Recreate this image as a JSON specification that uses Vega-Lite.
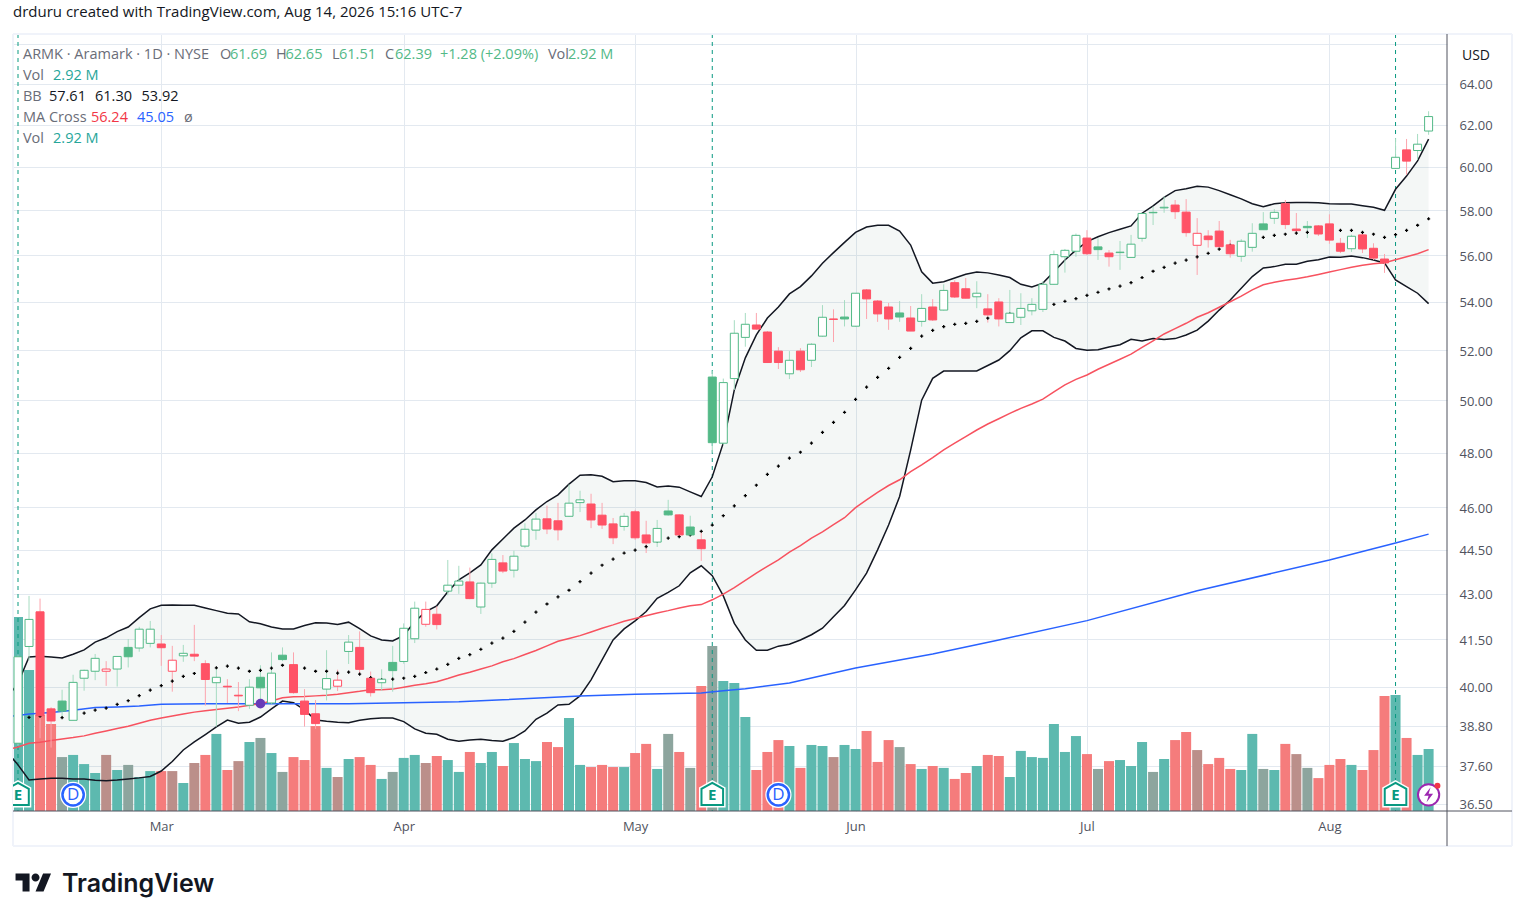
{
"$schema":"https://vega.github.io/schema/vega-lite/v6.json",
"description":"ARMK daily candles with Bollinger bands, moving averages and volume",
"autosize":{"type":"none"},
"padding":{"left":13,"top":34,"right":78,"bottom":110},
"width":1434,
"height":777,
"background":"#ffffff",
"title":{"text":"drduru created with TradingView.com, Aug 14, 2026 15:16 UTC-7","anchor":"start","frame":"group","offset":13,"font":"Open Sans","fontSize":15,"fontWeight":"normal","color":"#131722"},
"config":{"view":{"stroke":null},"text":{"font":"Open Sans"}},
"datasets":{
"candles":[
{"k":0,"o":38.27,"h":40.98,"l":38.2,"c":40.94,"d":"u","v":9.14,"t":"g"},
{"k":1,"o":41.27,"h":42.93,"l":40.83,"c":42.15,"d":"u","v":6.64,"t":"g"},
{"k":2,"o":42.4,"h":42.84,"l":38.42,"c":39.1,"d":"d","v":4.52,"t":"r"},
{"k":3,"o":39.31,"h":39.36,"l":38.14,"c":38.94,"d":"d","v":4.1,"t":"r"},
{"k":4,"o":39.55,"h":39.9,"l":39.02,"c":39.24,"d":"u","v":2.54,"t":"gg"},
{"k":5,"o":38.96,"h":40.37,"l":38.96,"c":40.13,"d":"u","v":2.64,"t":"g"},
{"k":6,"o":40.26,"h":40.53,"l":39.87,"c":40.51,"d":"u","v":2.21,"t":"g"},
{"k":7,"o":40.48,"h":41.03,"l":40.2,"c":40.89,"d":"u","v":1.79,"t":"g"},
{"k":8,"o":40.48,"h":40.8,"l":40.02,"c":40.55,"d":"d","v":2.64,"t":"gr"},
{"k":9,"o":40.55,"h":40.95,"l":40.0,"c":40.95,"d":"u","v":1.93,"t":"g"},
{"k":10,"o":41.24,"h":41.51,"l":40.6,"c":40.94,"d":"u","v":2.17,"t":"gg"},
{"k":11,"o":41.22,"h":41.91,"l":41.1,"c":41.83,"d":"u","v":1.6,"t":"g"},
{"k":12,"o":41.37,"h":42.1,"l":41.24,"c":41.83,"d":"u","v":1.88,"t":"g"},
{"k":13,"o":41.35,"h":41.64,"l":40.65,"c":41.23,"d":"d","v":1.88,"t":"r"},
{"k":14,"o":40.48,"h":41.29,"l":39.84,"c":40.83,"d":"d","v":1.88,"t":"gr"},
{"k":15,"o":40.97,"h":41.32,"l":40.78,"c":41.05,"d":"u","v":1.32,"t":"g"},
{"k":16,"o":41.02,"h":41.97,"l":40.8,"c":40.96,"d":"d","v":2.26,"t":"gr"},
{"k":17,"o":40.72,"h":40.83,"l":39.41,"c":40.22,"d":"d","v":2.64,"t":"r"},
{"k":18,"o":40.12,"h":40.57,"l":38.77,"c":40.29,"d":"u","v":3.63,"t":"g"},
{"k":19,"o":40.01,"h":40.23,"l":39.49,"c":39.99,"d":"d","v":1.93,"t":"r"},
{"k":20,"o":39.73,"h":40.14,"l":39.24,"c":39.71,"d":"d","v":2.35,"t":"gr"},
{"k":21,"o":39.42,"h":40.23,"l":39.31,"c":39.98,"d":"u","v":3.25,"t":"g"},
{"k":22,"o":40.29,"h":40.67,"l":39.55,"c":39.96,"d":"u","v":3.44,"t":"gg"},
{"k":23,"o":39.49,"h":41.08,"l":39.45,"c":40.42,"d":"u","v":2.73,"t":"g"},
{"k":24,"o":40.99,"h":41.24,"l":40.8,"c":40.85,"d":"u","v":1.84,"t":"gg"},
{"k":25,"o":40.69,"h":41.08,"l":39.78,"c":39.81,"d":"d","v":2.54,"t":"r"},
{"k":26,"o":39.55,"h":39.92,"l":38.77,"c":39.14,"d":"d","v":2.4,"t":"r"},
{"k":27,"o":39.16,"h":39.58,"l":38.7,"c":38.86,"d":"d","v":4.0,"t":"r"},
{"k":28,"o":39.92,"h":41.15,"l":39.57,"c":40.25,"d":"u","v":2.03,"t":"g"},
{"k":29,"o":40.01,"h":40.53,"l":39.86,"c":40.2,"d":"d","v":1.6,"t":"gr"},
{"k":30,"o":41.11,"h":41.64,"l":40.71,"c":41.41,"d":"u","v":2.45,"t":"g"},
{"k":31,"o":41.24,"h":41.76,"l":40.42,"c":40.54,"d":"d","v":2.54,"t":"r"},
{"k":32,"o":40.26,"h":40.47,"l":39.69,"c":39.81,"d":"d","v":2.17,"t":"r"},
{"k":33,"o":40.12,"h":40.54,"l":39.87,"c":40.23,"d":"u","v":1.51,"t":"g"},
{"k":34,"o":40.76,"h":41.29,"l":39.84,"c":40.5,"d":"u","v":1.84,"t":"gg"},
{"k":35,"o":40.79,"h":42.02,"l":40.72,"c":41.86,"d":"u","v":2.5,"t":"g"},
{"k":36,"o":41.52,"h":42.74,"l":41.38,"c":42.52,"d":"u","v":2.64,"t":"g"},
{"k":37,"o":41.99,"h":42.74,"l":41.91,"c":42.48,"d":"d","v":2.26,"t":"gr"},
{"k":38,"o":42.32,"h":42.58,"l":41.82,"c":41.98,"d":"d","v":2.59,"t":"r"},
{"k":39,"o":43.09,"h":44.15,"l":42.95,"c":43.29,"d":"u","v":2.4,"t":"g"},
{"k":40,"o":43.29,"h":43.95,"l":43.0,"c":43.43,"d":"u","v":1.84,"t":"g"},
{"k":41,"o":43.4,"h":43.89,"l":42.82,"c":42.84,"d":"d","v":2.78,"t":"r"},
{"k":42,"o":42.56,"h":43.38,"l":42.33,"c":43.36,"d":"u","v":2.26,"t":"g"},
{"k":43,"o":43.36,"h":44.38,"l":43.2,"c":44.17,"d":"u","v":2.78,"t":"g"},
{"k":44,"o":44.05,"h":44.32,"l":43.7,"c":43.77,"d":"d","v":2.12,"t":"r"},
{"k":45,"o":43.8,"h":44.47,"l":43.55,"c":44.28,"d":"u","v":3.2,"t":"g"},
{"k":46,"o":44.63,"h":45.43,"l":44.56,"c":45.22,"d":"u","v":2.45,"t":"g"},
{"k":47,"o":45.19,"h":45.8,"l":44.85,"c":45.58,"d":"u","v":2.35,"t":"g"},
{"k":48,"o":45.59,"h":46.06,"l":45.05,"c":45.23,"d":"d","v":3.25,"t":"r"},
{"k":49,"o":45.52,"h":46.16,"l":44.83,"c":45.2,"d":"d","v":3.01,"t":"r"},
{"k":50,"o":45.68,"h":46.83,"l":45.66,"c":46.15,"d":"u","v":4.38,"t":"g"},
{"k":51,"o":46.17,"h":46.6,"l":45.83,"c":46.27,"d":"u","v":2.17,"t":"g"},
{"k":52,"o":46.12,"h":46.49,"l":45.26,"c":45.55,"d":"d","v":2.07,"t":"r"},
{"k":53,"o":45.72,"h":46.16,"l":45.23,"c":45.37,"d":"d","v":2.17,"t":"r"},
{"k":54,"o":45.41,"h":45.62,"l":44.7,"c":44.92,"d":"d","v":2.07,"t":"r"},
{"k":55,"o":45.32,"h":45.8,"l":45.17,"c":45.68,"d":"u","v":2.07,"t":"g"},
{"k":56,"o":45.84,"h":45.91,"l":44.85,"c":44.92,"d":"d","v":2.73,"t":"r"},
{"k":57,"o":45.02,"h":45.52,"l":44.39,"c":44.74,"d":"d","v":3.16,"t":"r"},
{"k":58,"o":44.77,"h":45.55,"l":44.6,"c":45.25,"d":"u","v":1.98,"t":"g"},
{"k":59,"o":45.87,"h":46.27,"l":45.7,"c":45.73,"d":"u","v":3.63,"t":"gg"},
{"k":60,"o":45.73,"h":45.75,"l":45.0,"c":45.02,"d":"d","v":2.78,"t":"r"},
{"k":61,"o":45.3,"h":45.7,"l":45.0,"c":45.02,"d":"u","v":2.03,"t":"gg"},
{"k":62,"o":44.85,"h":45.16,"l":44.12,"c":44.54,"d":"d","v":5.89,"t":"r"},
{"k":63,"o":50.92,"h":51.17,"l":48.0,"c":48.38,"d":"u","v":7.77,"t":"gg"},
{"k":64,"o":48.36,"h":50.86,"l":48.3,"c":50.7,"d":"u","v":6.12,"t":"g"},
{"k":65,"o":50.86,"h":53.23,"l":50.41,"c":52.69,"d":"u","v":6.03,"t":"g"},
{"k":66,"o":52.52,"h":53.53,"l":52.14,"c":53.06,"d":"u","v":4.43,"t":"g"},
{"k":67,"o":53.03,"h":53.53,"l":52.84,"c":52.86,"d":"d","v":1.93,"t":"r"},
{"k":68,"o":52.74,"h":52.78,"l":51.48,"c":51.5,"d":"d","v":2.78,"t":"r"},
{"k":69,"o":51.96,"h":52.12,"l":51.24,"c":51.5,"d":"d","v":3.34,"t":"r"},
{"k":70,"o":51.05,"h":51.96,"l":50.84,"c":51.59,"d":"u","v":3.06,"t":"g"},
{"k":71,"o":51.96,"h":52.08,"l":51.12,"c":51.21,"d":"d","v":2.03,"t":"r"},
{"k":72,"o":51.59,"h":52.28,"l":51.32,"c":52.24,"d":"u","v":3.11,"t":"g"},
{"k":73,"o":52.57,"h":53.86,"l":52.55,"c":53.35,"d":"u","v":3.06,"t":"g"},
{"k":74,"o":53.28,"h":53.68,"l":52.33,"c":53.26,"d":"d","v":2.54,"t":"gr"},
{"k":75,"o":53.36,"h":54.07,"l":52.97,"c":53.28,"d":"u","v":3.11,"t":"g"},
{"k":76,"o":52.98,"h":54.37,"l":52.96,"c":54.36,"d":"u","v":2.92,"t":"g"},
{"k":77,"o":54.5,"h":54.54,"l":53.28,"c":54.12,"d":"d","v":3.77,"t":"r"},
{"k":78,"o":54.03,"h":54.07,"l":53.16,"c":53.49,"d":"d","v":2.31,"t":"r"},
{"k":79,"o":53.78,"h":53.95,"l":52.83,"c":53.28,"d":"d","v":3.34,"t":"r"},
{"k":80,"o":53.53,"h":54.03,"l":53.16,"c":53.36,"d":"u","v":3.01,"t":"gg"},
{"k":81,"o":53.32,"h":53.82,"l":52.78,"c":52.78,"d":"d","v":2.21,"t":"r"},
{"k":82,"o":53.18,"h":54.32,"l":52.96,"c":53.72,"d":"u","v":1.98,"t":"g"},
{"k":83,"o":53.78,"h":54.11,"l":53.2,"c":53.24,"d":"d","v":2.12,"t":"r"},
{"k":84,"o":53.65,"h":54.74,"l":53.63,"c":54.48,"d":"u","v":2.03,"t":"g"},
{"k":85,"o":54.81,"h":54.91,"l":54.16,"c":54.2,"d":"d","v":1.51,"t":"r"},
{"k":86,"o":54.55,"h":55.01,"l":54.14,"c":54.15,"d":"d","v":1.79,"t":"r"},
{"k":87,"o":54.21,"h":54.87,"l":53.73,"c":54.36,"d":"u","v":2.12,"t":"g"},
{"k":88,"o":53.7,"h":54.32,"l":53.13,"c":53.45,"d":"d","v":2.64,"t":"r"},
{"k":89,"o":53.99,"h":54.15,"l":52.97,"c":53.28,"d":"d","v":2.59,"t":"r"},
{"k":90,"o":53.13,"h":54.5,"l":53.13,"c":53.52,"d":"u","v":1.6,"t":"g"},
{"k":91,"o":53.35,"h":54.36,"l":53.03,"c":53.72,"d":"u","v":2.83,"t":"g"},
{"k":92,"o":53.62,"h":54.15,"l":53.43,"c":53.89,"d":"u","v":2.54,"t":"g"},
{"k":93,"o":53.68,"h":54.87,"l":53.57,"c":54.74,"d":"u","v":2.5,"t":"g"},
{"k":94,"o":54.74,"h":56.2,"l":54.72,"c":56.02,"d":"u","v":4.1,"t":"g"},
{"k":95,"o":55.93,"h":56.27,"l":55.24,"c":56.21,"d":"u","v":2.78,"t":"g"},
{"k":96,"o":56.17,"h":56.95,"l":55.93,"c":56.87,"d":"u","v":3.53,"t":"g"},
{"k":97,"o":56.75,"h":57.1,"l":56.0,"c":56.06,"d":"d","v":2.68,"t":"r"},
{"k":98,"o":56.36,"h":56.74,"l":55.79,"c":56.24,"d":"u","v":1.98,"t":"gg"},
{"k":99,"o":56.09,"h":56.22,"l":55.5,"c":55.93,"d":"d","v":2.35,"t":"r"},
{"k":100,"o":56.11,"h":56.62,"l":55.36,"c":56.13,"d":"u","v":2.4,"t":"g"},
{"k":101,"o":55.9,"h":56.89,"l":55.9,"c":56.48,"d":"u","v":2.12,"t":"g"},
{"k":102,"o":56.74,"h":57.87,"l":56.59,"c":57.85,"d":"u","v":3.25,"t":"g"},
{"k":103,"o":57.88,"h":58.16,"l":57.33,"c":57.9,"d":"u","v":1.84,"t":"gg"},
{"k":104,"o":58.1,"h":58.62,"l":57.88,"c":58.13,"d":"u","v":2.45,"t":"g"},
{"k":105,"o":58.23,"h":58.46,"l":57.6,"c":57.93,"d":"d","v":3.34,"t":"r"},
{"k":106,"o":57.91,"h":58.5,"l":56.81,"c":56.99,"d":"d","v":3.72,"t":"r"},
{"k":107,"o":56.43,"h":57.64,"l":55.14,"c":56.96,"d":"d","v":2.87,"t":"gr"},
{"k":108,"o":56.84,"h":57.1,"l":56.33,"c":56.68,"d":"d","v":2.21,"t":"r"},
{"k":109,"o":57.06,"h":57.51,"l":56.37,"c":56.37,"d":"d","v":2.5,"t":"r"},
{"k":110,"o":56.45,"h":56.67,"l":55.89,"c":56.06,"d":"d","v":1.98,"t":"r"},
{"k":111,"o":55.95,"h":56.7,"l":55.71,"c":56.61,"d":"u","v":1.93,"t":"g"},
{"k":112,"o":56.34,"h":57.41,"l":56.15,"c":56.96,"d":"u","v":3.63,"t":"g"},
{"k":113,"o":57.38,"h":57.91,"l":57.12,"c":57.12,"d":"u","v":1.98,"t":"gg"},
{"k":114,"o":57.63,"h":58.05,"l":57.38,"c":57.9,"d":"u","v":1.93,"t":"g"},
{"k":115,"o":58.29,"h":58.46,"l":57.15,"c":57.35,"d":"d","v":3.16,"t":"r"},
{"k":116,"o":57.15,"h":57.87,"l":56.92,"c":57.08,"d":"d","v":2.68,"t":"gr"},
{"k":117,"o":57.27,"h":57.51,"l":56.75,"c":57.21,"d":"u","v":2.03,"t":"gg"},
{"k":118,"o":57.29,"h":57.33,"l":56.84,"c":56.93,"d":"d","v":1.55,"t":"r"},
{"k":119,"o":57.38,"h":57.81,"l":56.5,"c":56.66,"d":"d","v":2.17,"t":"r"},
{"k":120,"o":56.52,"h":56.75,"l":56.09,"c":56.17,"d":"d","v":2.45,"t":"r"},
{"k":121,"o":56.28,"h":56.9,"l":56.14,"c":56.83,"d":"u","v":2.17,"t":"g"},
{"k":122,"o":56.89,"h":56.97,"l":56.09,"c":56.27,"d":"d","v":1.93,"t":"r"},
{"k":123,"o":56.3,"h":56.52,"l":55.79,"c":55.87,"d":"d","v":2.87,"t":"r"},
{"k":124,"o":55.83,"h":56.05,"l":55.23,"c":55.66,"d":"d","v":5.42,"t":"r"},
{"k":125,"o":59.92,"h":61.35,"l":59.9,"c":60.44,"d":"u","v":5.46,"t":"g"},
{"k":126,"o":60.79,"h":61.31,"l":59.62,"c":60.26,"d":"d","v":3.44,"t":"r"},
{"k":127,"o":60.76,"h":61.55,"l":60.32,"c":61.06,"d":"u","v":2.64,"t":"g"},
{"k":128,"o":61.69,"h":62.65,"l":61.51,"c":62.39,"d":"u","v":2.92,"t":"g"}
],
"bands":[
{"k":-1,"u":39.63,"m":38.7,"b":38.01,"s":38.07},
{"k":0,"u":40.11,"m":38.84,"b":37.63,"s":38.16},
{"k":1,"u":40.93,"m":39.05,"b":37.19,"s":38.27},
{"k":2,"u":40.96,"m":39.09,"b":37.22,"s":38.3},
{"k":3,"u":40.93,"m":39.08,"b":37.24,"s":38.35},
{"k":4,"u":40.9,"m":39.04,"b":37.24,"s":38.4},
{"k":5,"u":41.02,"m":39.13,"b":37.22,"s":38.44},
{"k":6,"u":41.16,"m":39.18,"b":37.22,"s":38.49},
{"k":7,"u":41.41,"m":39.27,"b":37.18,"s":38.57},
{"k":8,"u":41.55,"m":39.33,"b":37.17,"s":38.64},
{"k":9,"u":41.75,"m":39.45,"b":37.19,"s":38.71},
{"k":10,"u":41.9,"m":39.56,"b":37.22,"s":38.78},
{"k":11,"u":42.21,"m":39.72,"b":37.25,"s":38.87},
{"k":12,"u":42.5,"m":39.89,"b":37.29,"s":38.96},
{"k":13,"u":42.62,"m":40.03,"b":37.45,"s":39.03},
{"k":14,"u":42.63,"m":40.17,"b":37.73,"s":39.09},
{"k":15,"u":42.62,"m":40.32,"b":38.07,"s":39.15},
{"k":16,"u":42.62,"m":40.41,"b":38.31,"s":39.21},
{"k":17,"u":42.53,"m":40.55,"b":38.53,"s":39.25},
{"k":18,"u":42.44,"m":40.59,"b":38.76,"s":39.29},
{"k":19,"u":42.35,"m":40.64,"b":38.97,"s":39.33},
{"k":20,"u":42.33,"m":40.58,"b":38.87,"s":39.37},
{"k":21,"u":42.07,"m":40.48,"b":38.9,"s":39.42},
{"k":22,"u":42.01,"m":40.51,"b":39.06,"s":39.47},
{"k":23,"u":41.9,"m":40.58,"b":39.31,"s":39.55},
{"k":24,"u":41.84,"m":40.67,"b":39.55,"s":39.65},
{"k":25,"u":41.84,"m":40.63,"b":39.5,"s":39.68},
{"k":26,"u":41.95,"m":40.58,"b":39.28,"s":39.69},
{"k":27,"u":42.04,"m":40.48,"b":38.97,"s":39.71},
{"k":28,"u":42.03,"m":40.48,"b":38.93,"s":39.73},
{"k":29,"u":41.98,"m":40.42,"b":38.9,"s":39.76},
{"k":30,"u":42.06,"m":40.45,"b":38.89,"s":39.81},
{"k":31,"u":41.85,"m":40.39,"b":38.96,"s":39.85},
{"k":32,"u":41.61,"m":40.28,"b":39.01,"s":39.9},
{"k":33,"u":41.48,"m":40.21,"b":39.03,"s":39.9},
{"k":34,"u":41.45,"m":40.23,"b":39.03,"s":39.92},
{"k":35,"u":41.63,"m":40.26,"b":38.92,"s":39.98},
{"k":36,"u":42.07,"m":40.32,"b":38.7,"s":40.04},
{"k":37,"u":42.41,"m":40.44,"b":38.57,"s":40.09},
{"k":38,"u":42.6,"m":40.55,"b":38.54,"s":40.15},
{"k":39,"u":43.07,"m":40.7,"b":38.39,"s":40.25},
{"k":40,"u":43.47,"m":40.89,"b":38.33,"s":40.36},
{"k":41,"u":43.71,"m":41.01,"b":38.37,"s":40.45},
{"k":42,"u":43.98,"m":41.18,"b":38.39,"s":40.55},
{"k":43,"u":44.5,"m":41.38,"b":38.35,"s":40.65},
{"k":44,"u":44.88,"m":41.54,"b":38.33,"s":40.78},
{"k":45,"u":45.26,"m":41.76,"b":38.44,"s":40.88},
{"k":46,"u":45.55,"m":42.06,"b":38.64,"s":41.01},
{"k":47,"u":45.91,"m":42.39,"b":38.99,"s":41.14},
{"k":48,"u":46.21,"m":42.66,"b":39.18,"s":41.29},
{"k":49,"u":46.45,"m":42.9,"b":39.43,"s":41.44},
{"k":50,"u":46.84,"m":43.12,"b":39.45,"s":41.53},
{"k":51,"u":47.17,"m":43.41,"b":39.71,"s":41.62},
{"k":52,"u":47.18,"m":43.7,"b":40.21,"s":41.74},
{"k":53,"u":47.13,"m":43.97,"b":40.84,"s":41.86},
{"k":54,"u":46.93,"m":44.18,"b":41.48,"s":41.97},
{"k":55,"u":46.96,"m":44.39,"b":41.84,"s":42.09},
{"k":56,"u":46.96,"m":44.49,"b":42.1,"s":42.18},
{"k":57,"u":46.9,"m":44.61,"b":42.41,"s":42.27},
{"k":58,"u":46.74,"m":44.81,"b":42.85,"s":42.36},
{"k":59,"u":46.77,"m":44.91,"b":43.05,"s":42.44},
{"k":60,"u":46.73,"m":44.96,"b":43.27,"s":42.53},
{"k":61,"u":46.56,"m":45.02,"b":43.71,"s":42.6},
{"k":62,"u":46.39,"m":45.15,"b":43.95,"s":42.64},
{"k":63,"u":47.11,"m":45.37,"b":43.61,"s":42.8},
{"k":64,"u":48.37,"m":45.7,"b":42.93,"s":42.99},
{"k":65,"u":50.41,"m":46.05,"b":42.02,"s":43.21},
{"k":66,"u":51.69,"m":46.42,"b":41.48,"s":43.45},
{"k":67,"u":52.62,"m":46.8,"b":41.15,"s":43.7},
{"k":68,"u":53.32,"m":47.2,"b":41.15,"s":43.93},
{"k":69,"u":53.78,"m":47.5,"b":41.28,"s":44.15},
{"k":70,"u":54.33,"m":47.8,"b":41.34,"s":44.42},
{"k":71,"u":54.64,"m":48.02,"b":41.48,"s":44.65},
{"k":72,"u":55.1,"m":48.36,"b":41.65,"s":44.91},
{"k":73,"u":55.65,"m":48.77,"b":41.86,"s":45.13},
{"k":74,"u":56.11,"m":49.15,"b":42.24,"s":45.38},
{"k":75,"u":56.56,"m":49.54,"b":42.61,"s":45.63},
{"k":76,"u":57.0,"m":50.04,"b":43.13,"s":45.99},
{"k":77,"u":57.24,"m":50.52,"b":43.7,"s":46.27},
{"k":78,"u":57.32,"m":50.91,"b":44.5,"s":46.54},
{"k":79,"u":57.32,"m":51.27,"b":45.37,"s":46.79},
{"k":80,"u":57.06,"m":51.71,"b":46.39,"s":47.0},
{"k":81,"u":56.44,"m":52.07,"b":48.1,"s":47.3},
{"k":82,"u":55.28,"m":52.57,"b":50.01,"s":47.55},
{"k":83,"u":54.79,"m":52.81,"b":50.87,"s":47.82},
{"k":84,"u":54.85,"m":52.96,"b":51.16,"s":48.11},
{"k":85,"u":55.01,"m":53.06,"b":51.16,"s":48.36},
{"k":86,"u":55.17,"m":53.1,"b":51.16,"s":48.61},
{"k":87,"u":55.27,"m":53.18,"b":51.16,"s":48.86},
{"k":88,"u":55.23,"m":53.31,"b":51.38,"s":49.09},
{"k":89,"u":55.14,"m":53.4,"b":51.6,"s":49.29},
{"k":90,"u":55.03,"m":53.48,"b":51.98,"s":49.5},
{"k":91,"u":54.74,"m":53.6,"b":52.5,"s":49.69},
{"k":92,"u":54.63,"m":53.7,"b":52.79,"s":49.86},
{"k":93,"u":54.79,"m":53.77,"b":52.79,"s":50.05},
{"k":94,"u":55.28,"m":53.89,"b":52.52,"s":50.33},
{"k":95,"u":55.79,"m":54.02,"b":52.37,"s":50.61},
{"k":96,"u":56.22,"m":54.13,"b":52.07,"s":50.83},
{"k":97,"u":56.59,"m":54.27,"b":52.0,"s":51.0},
{"k":98,"u":56.81,"m":54.4,"b":52.02,"s":51.23},
{"k":99,"u":56.99,"m":54.54,"b":52.13,"s":51.43},
{"k":100,"u":57.14,"m":54.66,"b":52.22,"s":51.63},
{"k":101,"u":57.29,"m":54.81,"b":52.44,"s":51.84},
{"k":102,"u":57.86,"m":55.03,"b":52.37,"s":52.11},
{"k":103,"u":58.19,"m":55.3,"b":52.47,"s":52.38},
{"k":104,"u":58.58,"m":55.47,"b":52.43,"s":52.66},
{"k":105,"u":58.89,"m":55.65,"b":52.47,"s":52.88},
{"k":106,"u":58.98,"m":55.78,"b":52.62,"s":53.1},
{"k":107,"u":59.09,"m":55.92,"b":52.82,"s":53.35},
{"k":108,"u":59.05,"m":56.08,"b":53.19,"s":53.54},
{"k":109,"u":58.89,"m":56.26,"b":53.65,"s":53.77},
{"k":110,"u":58.7,"m":56.43,"b":54.07,"s":54.0},
{"k":111,"u":58.51,"m":56.52,"b":54.57,"s":54.24},
{"k":112,"u":58.29,"m":56.65,"b":55.07,"s":54.5},
{"k":113,"u":58.15,"m":56.78,"b":55.44,"s":54.72},
{"k":114,"u":58.29,"m":56.87,"b":55.5,"s":54.83},
{"k":115,"u":58.34,"m":56.92,"b":55.6,"s":54.91},
{"k":116,"u":58.35,"m":56.97,"b":55.6,"s":54.98},
{"k":117,"u":58.35,"m":57.0,"b":55.73,"s":55.06},
{"k":118,"u":58.34,"m":57.03,"b":55.8,"s":55.16},
{"k":119,"u":58.29,"m":57.06,"b":55.92,"s":55.27},
{"k":120,"u":58.28,"m":57.09,"b":55.91,"s":55.37},
{"k":121,"u":58.28,"m":57.09,"b":55.96,"s":55.47},
{"k":122,"u":58.2,"m":57.0,"b":55.89,"s":55.56},
{"k":123,"u":58.13,"m":56.92,"b":55.79,"s":55.62},
{"k":124,"u":57.99,"m":56.78,"b":55.66,"s":55.67},
{"k":125,"u":58.95,"m":56.9,"b":54.93,"s":55.8},
{"k":126,"u":59.56,"m":57.09,"b":54.64,"s":55.93},
{"k":127,"u":60.27,"m":57.32,"b":54.36,"s":56.06},
{"k":128,"u":61.3,"m":57.61,"b":53.92,"s":56.24}
],
"ma200":[
{"k":-1,"p":39.07},{"k":0,"p":39.11},{"k":1,"p":39.15},{"k":3,"p":39.2},{"k":5,"p":39.27},{"k":7,"p":39.35},{"k":9,"p":39.37},{"k":11,"p":39.4},{"k":13,"p":39.45},{"k":17,"p":39.47},{"k":22,"p":39.47},{"k":30,"p":39.47},{"k":35,"p":39.5},{"k":40,"p":39.53},{"k":44,"p":39.59},{"k":51,"p":39.71},{"k":56,"p":39.76},{"k":62,"p":39.8},{"k":64,"p":39.87},{"k":66,"p":39.93},{"k":70,"p":40.11},{"k":76,"p":40.58},{"k":83,"p":41.03},{"k":89,"p":41.48},{"k":97,"p":42.11},{"k":107,"p":43.1},{"k":119,"p":44.15},{"k":125,"p":44.74},{"k":128,"p":45.05}
],
"earnings":[{"k":0,"p":36.76,"label":"E"},{"k":63,"p":36.76,"label":"E"},{"k":125,"p":36.76,"label":"E"}],
"dividends":[{"k":5,"p":36.76,"label":"D"},{"k":69,"p":36.76,"label":"D"}],
"legend":[
{"k":0.45,"p":65.51,"label":"ARMK · Aramark · 1D · NYSE","tone":"label"},
{"k":18.33,"p":65.51,"label":"O","tone":"label"},
{"k":19.24,"p":65.51,"label":"61.69","tone":"up"},
{"k":23.41,"p":65.51,"label":"H","tone":"label"},
{"k":24.27,"p":65.51,"label":"62.65","tone":"up"},
{"k":28.49,"p":65.51,"label":"L","tone":"label"},
{"k":29.13,"p":65.51,"label":"61.51","tone":"up"},
{"k":33.3,"p":65.51,"label":"C","tone":"label"},
{"k":34.21,"p":65.51,"label":"62.39","tone":"up"},
{"k":38.29,"p":65.51,"label":"+1.28 (+2.09%)","tone":"up"},
{"k":48.09,"p":65.51,"label":"Vol","tone":"label"},
{"k":49.9,"p":65.51,"label":"2.92 M","tone":"up"},
{"k":0.45,"p":64.44,"label":"Vol","tone":"label"},
{"k":3.18,"p":64.44,"label":"2.92 M","tone":"vol"},
{"k":0.45,"p":63.4,"label":"BB","tone":"label"},
{"k":2.81,"p":63.4,"label":"57.61","tone":"bb"},
{"k":6.99,"p":63.4,"label":"61.30","tone":"bb"},
{"k":11.21,"p":63.4,"label":"53.92","tone":"bb"},
{"k":0.45,"p":62.37,"label":"MA Cross","tone":"label"},
{"k":6.62,"p":62.37,"label":"56.24","tone":"ma50"},
{"k":10.8,"p":62.37,"label":"45.05","tone":"ma200"},
{"k":15.06,"p":62.37,"label":"ø","tone":"label"},
{"k":0.45,"p":61.36,"label":"Vol","tone":"label"},
{"k":3.18,"p":61.36,"label":"2.92 M","tone":"vol"}
],
"frame":[
{"k":-0.454,"k2":135.57,"p":66.54,"p2":66.54},
{"k":-0.454,"k2":135.57,"p":35.32,"p2":35.32},
{"k":-0.454,"k2":-0.454,"p":66.54,"p2":35.32},
{"k":135.57,"k2":135.57,"p":66.54,"p2":35.32}
],
"scales":[
{"k":-0.454,"k2":135.57,"p":36.3,"p2":36.3},
{"k":129.67,"k2":129.67,"p":66.54,"p2":35.32}
]
},
"encoding":{
"x":{"field":"k","type":"quantitative","title":null,
"scale":{"domain":[-0.454,129.67],"nice":false,"zero":false,"padding":0},
"axis":{"values":[13,35,56,76,97,119],"labelExpr":"{'13':'Mar','35':'Apr','56':'May','76':'Jun','97':'Jul','119':'Aug'}[datum.value]","grid":true,"gridColor":"#e3e9f0","gridWidth":1,"ticks":false,"domain":false,"labelFont":"Open Sans","labelFontSize":13,"labelColor":"#50535e","labelPadding":9,"labelFlush":false,"labelOverlap":false}}
},
"layer":[
{"data":{"name":"bands"},
"mark":{"type":"area","color":"#2a5a50","opacity":0.05,"clip":true},
"encoding":{
"y":{"field":"b","type":"quantitative","title":null,
"scale":{"type":"log","domain":[36.3,66.54],"nice":false,"zero":false},
"axis":{"orient":"right","values":[36.5,37.6,38.8,40,41.5,43,44.5,46,48,50,52,54,56,58,60,62,64,66],"labelExpr":"datum.value==66?'':format(datum.value,'.2f')","grid":true,"gridColor":"#e3e9f0","gridWidth":1,"ticks":false,"domain":false,"labelFont":"Open Sans","labelFontSize":13,"labelColor":"#50535e","labelPadding":12,"labelOffset":1,"labelFlush":false,"labelOverlap":false,"labelBound":false}},
"y2":{"field":"u"}
}},
{"data":{"name":"candles"},
"mark":{"type":"bar","orient":"vertical","width":10,"clip":true},
"encoding":{
"y":{"field":"v","type":"quantitative","title":null,"stack":null,"scale":{"domain":[0,36.59],"nice":false},"axis":null},
"color":{"condition":[{"test":"datum.t=='g'","value":"#5db9af"},{"test":"datum.t=='r'","value":"#f57c7c"},{"test":"datum.t=='gg'","value":"#8da59e"}],"value":"#bb8f8a"}
}},
{"layer":[
{"data":{"name":"earnings"},"mark":{"type":"rule","color":"#089981","strokeWidth":1,"strokeDash":[4,4]},"encoding":{}},
{"data":{"name":"frame"},"mark":{"type":"rule","color":"#f0f3fa","strokeWidth":2,"clip":false},"encoding":{"x2":{"field":"k2"},"y":{"field":"p","type":"quantitative"},"y2":{"field":"p2"}}},
{"data":{"name":"scales"},"mark":{"type":"rule","color":"#50535e","strokeWidth":1,"clip":false},"encoding":{"x2":{"field":"k2"},"y":{"field":"p","type":"quantitative"},"y2":{"field":"p2"}}},
{"data":{"values":[{"p":62.39}]},"mark":{"type":"rule","color":"#53b987","strokeWidth":1,"strokeDash":[1,3]},"encoding":{"x":{"datum":-0.454},"x2":{"datum":129.67},"y":{"field":"p","type":"quantitative"}}},
{"data":{"name":"bands"},"mark":{"type":"line","color":"#131722","strokeWidth":1.5,"clip":true},"encoding":{"y":{"field":"u","type":"quantitative"}}},
{"data":{"name":"bands"},"mark":{"type":"line","color":"#131722","strokeWidth":1.5,"clip":true},"encoding":{"y":{"field":"b","type":"quantitative"}}},
{"data":{"name":"ma200"},"mark":{"type":"line","color":"#2962ff","strokeWidth":1.5,"clip":true},"encoding":{"y":{"field":"p","type":"quantitative"}}},
{"data":{"name":"bands"},"mark":{"type":"line","color":"#f7525f","strokeWidth":1.5,"clip":true},"encoding":{"y":{"field":"s","type":"quantitative"}}},
{"data":{"name":"candles"},"mark":{"type":"rule","strokeWidth":1,"clip":true},"encoding":{
"y":{"field":"h","type":"quantitative"},"y2":{"field":"l"},
"color":{"condition":{"test":"datum.d=='u'","value":"#a6dcc2"},"value":"#fca5ae"}}},
{"data":{"name":"bands"},"mark":{"type":"point","shape":"cross","filled":true,"size":10,"color":"#000000","opacity":1,"clip":true},"encoding":{"y":{"field":"m","type":"quantitative"}}},
{"data":{"name":"candles"},"mark":{"type":"bar","orient":"vertical","width":8,"strokeWidth":1,"clip":true},"encoding":{
"y":{"field":"o","type":"quantitative","stack":null},"y2":{"field":"c"},
"fill":{"condition":[{"test":"datum.c>=datum.o","value":"#ffffff"},{"test":"datum.d=='u'","value":"#53b987"}],"value":"#ff5266"},
"stroke":{"condition":{"test":"datum.d=='u'","value":"#53b987"},"value":"#ff5266"}}},
{"data":{"values":[{"k":22,"p":39.47}]},"mark":{"type":"circle","size":95,"color":"#673ab7","opacity":1},"encoding":{"y":{"field":"p","type":"quantitative"}}},
{"data":{"name":"earnings"},"mark":{"type":"point","shape":"M0,-1L.9,-.5V.85H-.9V-.5Z","size":576,"filled":false,"stroke":"#ffffff","strokeWidth":5,"opacity":1,"clip":true},"encoding":{"y":{"field":"p","type":"quantitative"}}},
{"data":{"name":"earnings"},"mark":{"type":"point","shape":"M0,-1L.9,-.5V.85H-.9V-.5Z","size":576,"filled":true,"fill":"#ffffff","stroke":"#089981","strokeWidth":2,"opacity":1,"clip":true},"encoding":{"y":{"field":"p","type":"quantitative"}}},
{"data":{"name":"earnings"},"mark":{"type":"text","font":"Open Sans","fontSize":15,"fontWeight":"bold","color":"#089981","baseline":"middle","clip":true},"encoding":{"y":{"field":"p","type":"quantitative"},"text":{"field":"label"}}},
{"data":{"name":"dividends"},"mark":{"type":"circle","size":452,"fill":"#ffffff","stroke":"#ffffff","strokeWidth":5,"opacity":1},"encoding":{"y":{"field":"p","type":"quantitative"}}},
{"data":{"name":"dividends"},"mark":{"type":"circle","size":452,"fill":"#ffffff","stroke":"#2962ff","strokeWidth":2.5,"opacity":1},"encoding":{"y":{"field":"p","type":"quantitative"}}},
{"data":{"name":"dividends"},"mark":{"type":"text","font":"Open Sans","fontSize":17,"color":"#2962ff","baseline":"middle"},"encoding":{"y":{"field":"p","type":"quantitative"},"text":{"field":"label"}}},
{"data":{"values":[{"k":128,"p":36.76}]},"mark":{"type":"circle","size":452,"fill":"#ffffff","stroke":"#9c27b0","strokeWidth":2,"opacity":1},"encoding":{"y":{"field":"p","type":"quantitative"}}},
{"data":{"values":[{"k":128,"p":36.76}]},"mark":{"type":"point","shape":"M.2,-.75L-.45,.1H0L-.2,.75L.45,-.1H0Z","size":400,"filled":true,"color":"#9c27b0","opacity":1},"encoding":{"y":{"field":"p","type":"quantitative"}}},
{"data":{"values":[{"k":128.8,"p":37.02}]},"mark":{"type":"circle","size":36,"color":"#f23645","opacity":1},"encoding":{"y":{"field":"p","type":"quantitative"}}},
{"data":{"name":"legend"},"mark":{"type":"text","font":"Open Sans","fontSize":14.5,"align":"left","baseline":"middle","dy":1},"encoding":{
"y":{"field":"p","type":"quantitative"},"text":{"field":"label"},
"color":{"condition":[{"test":"datum.tone=='label'","value":"#6a6d78"},{"test":"datum.tone=='up'","value":"#53b987"},{"test":"datum.tone=='vol'","value":"#26a69a"},{"test":"datum.tone=='bb'","value":"#131722"},{"test":"datum.tone=='ma50'","value":"#f23645"}],"value":"#2962ff"}}},
{"data":{"values":[{"k":132.3,"p":65.46,"label":"USD"}]},"mark":{"type":"text","font":"Open Sans","fontSize":14,"color":"#131722","baseline":"middle","dy":1},"encoding":{"y":{"field":"p","type":"quantitative"},"text":{"field":"label"}}},
{"data":{"values":[{"k":1.41,"p":34.33}]},"mark":{"type":"point","shape":"M-.222,.5H-.611V-.111H-1V-.5H-.222ZM.556,.5H.111L.528,-.5H.972ZM-.111,-.278A.222,.222 0 1 1 .333,-.278A.222,.222 0 1 1 -.111,-.278Z","size":1296,"filled":true,"color":"#131722","opacity":1},"encoding":{"y":{"field":"p","type":"quantitative"}}},
{"data":{"values":[{"k":3.99,"p":34.29,"label":"TradingView"}]},"mark":{"type":"text","font":"Inter","fontSize":25,"fontWeight":600,"color":"#131722","align":"left","baseline":"middle"},"encoding":{"y":{"field":"p","type":"quantitative"},"text":{"field":"label"}}}
],
"encoding":{"y":{"scale":{"type":"log","domain":[36.3,66.54],"nice":false,"zero":false},"axis":null,"title":null}}
}
],
"resolve":{"scale":{"y":"independent"},"axis":{"y":"independent"}}
}
